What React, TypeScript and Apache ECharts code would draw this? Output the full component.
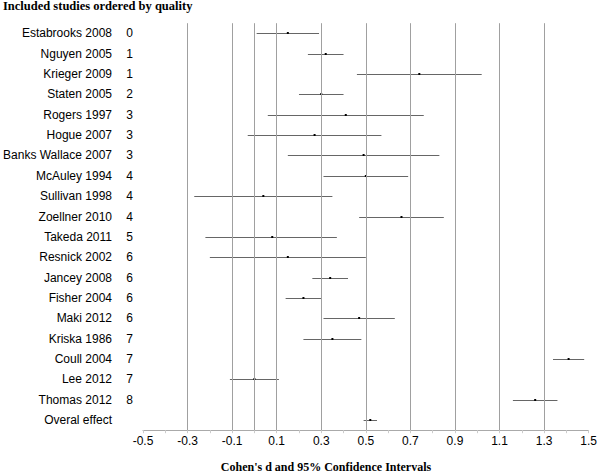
import React, { useEffect, useRef } from "react";
import * as echarts from "echarts";

const studies = [
  "Estabrooks 2008", "Nguyen 2005", "Krieger 2009", "Staten 2005", "Rogers 1997",
  "Hogue 2007", "Banks Wallace 2007", "McAuley 1994", "Sullivan 1998", "Zoellner 2010",
  "Takeda 2011", "Resnick 2002", "Jancey 2008", "Fisher 2004", "Maki 2012",
  "Kriska 1986", "Coull 2004", "Lee 2012", "Thomas 2012", "Overal effect",
];
const quality = ["0", "1", "1", "2", "3", "3", "3", "4", "4", "4", "5", "6", "6", "6", "6", "7", "7", "7", "8", ""];
const effect = [0.15, 0.32, 0.74, 0.30, 0.41, 0.27, 0.49, 0.50, 0.04, 0.66, 0.08, 0.15, 0.34, 0.22, 0.47, 0.35, 1.41, 0.00, 1.26, 0.52];
const lower = [0.01, 0.24, 0.46, 0.20, 0.06, -0.03, 0.15, 0.31, -0.27, 0.47, -0.22, -0.20, 0.26, 0.14, 0.31, 0.22, 1.34, -0.11, 1.16, 0.49];
const upper = [0.29, 0.40, 1.02, 0.40, 0.76, 0.57, 0.83, 0.69, 0.35, 0.85, 0.37, 0.50, 0.42, 0.30, 0.63, 0.48, 1.48, 0.11, 1.36, 0.55];
const gridLines = [-0.3, -0.1, 0, 0.1, 0.3, 0.5, 0.7, 0.9, 1.1, 1.3];
const xMin = -0.5;
const xMax = 1.5;
const title = "Included studies ordered by quality";
const xTitle = "Cohen's d and 95% Confidence Intervals";

export default function App() {
  const ref = useRef<HTMLDivElement>(null);
  useEffect(() => {
    if (!ref.current) return;
    const chart = echarts.init(ref.current, null, { renderer: "svg" });
    const data = studies.map((_, i) => [effect[i], i, lower[i], upper[i]]);
    chart.setOption({
      animation: false,
      backgroundColor: "#fff",
      grid: { left: 143, right: 9, top: 23.2, bottom: 42.8, containLabel: false },
      xAxis: {
        type: "value",
        min: xMin,
        max: xMax,
        interval: 0.1,
        splitLine: { show: false },
        axisLine: { show: true, lineStyle: { color: "#aaa", width: 1 } },
        axisTick: { show: true, length: 3, lineStyle: { color: "#ccc" } },
        axisLabel: {
          margin: 5,
          fontFamily: "Liberation Sans, Arial, sans-serif",
          fontSize: 12,
          color: "#000",
          formatter: (v: number) => {
            const k = Math.round(v * 10);
            return Math.abs(k) % 2 === 1 ? (k / 10).toFixed(1) : "";
          },
        },
      },
      yAxis: [
        {
          type: "category",
          data: studies,
          inverse: true,
          position: "left",
          axisLine: { show: false },
          axisTick: { show: false },
          splitLine: { show: false },
          axisLabel: {
            margin: 31,
            fontFamily: "Liberation Sans, Arial, sans-serif",
            fontSize: 12,
            color: "#000",
          },
        },
        {
          type: "category",
          data: quality,
          inverse: true,
          position: "left",
          axisLine: { show: false },
          axisTick: { show: false },
          splitLine: { show: false },
          axisLabel: {
            margin: 10,
            fontFamily: "Liberation Sans, Arial, sans-serif",
            fontSize: 12,
            color: "#000",
          },
        },
      ],
      series: [
        {
          type: "line",
          data: [],
          z: 1,
          silent: true,
          markLine: {
            silent: true,
            symbol: ["none", "none"],
            label: { show: false },
            lineStyle: { color: "#a0a0a0", width: 1, type: "solid" },
            data: gridLines.map((v) => ({ xAxis: v })),
          },
        },
        {
          type: "custom",
          z: 3,
          data,
          encode: { x: [0, 2, 3], y: 1 },
          renderItem: (params: any, api: any) => {
            const yi = api.value(1);
            const p = api.coord([api.value(0), yi]);
            const l = api.coord([api.value(2), yi]);
            const h = api.coord([api.value(3), yi]);
            const y = Math.round(p[1]) + 0.5;
            return {
              type: "group",
              children: [
                {
                  type: "line",
                  shape: { x1: l[0], y1: y, x2: h[0], y2: y },
                  style: { stroke: "#666", lineWidth: 1 },
                },
                {
                  type: "rect",
                  shape: { x: p[0] - 1, y: y - 1.5, width: 2, height: 2 },
                  style: { fill: "#000" },
                },
              ],
            };
          },
        },
      ],
      graphic: [
        {
          type: "text",
          x: 3,
          y: 6,
          style: {
            text: title,
            font: "bold 12.5px 'Liberation Serif', 'Times New Roman', serif",
            fill: "#000",
            verticalAlign: "middle",
            align: "left",
          },
        },
        {
          type: "text",
          x: 326,
          y: 467,
          style: {
            text: xTitle,
            font: "bold 12px 'Liberation Serif', 'Times New Roman', serif",
            fill: "#000",
            verticalAlign: "middle",
            align: "center",
          },
        },
      ],
    });
    return () => chart.dispose();
  }, []);
  return (
    <div
      ref={ref}
      style={{ position: "fixed", left: 0, top: 0, width: 600, height: 473 }}
    />
  );
}
